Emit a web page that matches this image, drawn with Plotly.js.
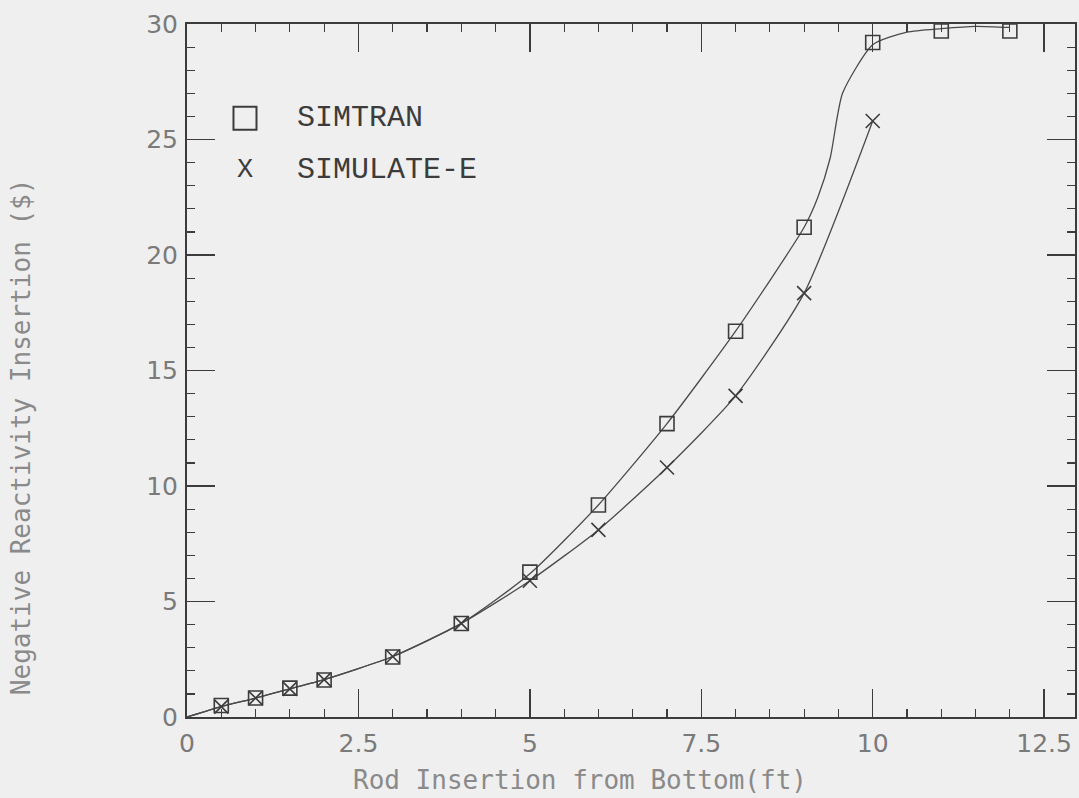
<!DOCTYPE html>
<html>
<head>
<meta charset="utf-8">
<script src="https://cdn.plot.ly/plotly-3.0.1.min.js"></script>
<style>
html,body{margin:0;padding:0;background:#efefef;}
#chart{width:1079px;height:798px;}
</style>
</head>
<body>
<div id="chart"></div>
<script>
// ---- data ----
const simtranMarkX = [0.5, 1, 1.5, 2, 3, 4, 5, 6, 7, 8, 9, 10, 11, 12];
const simtranMarkY = [0.5, 0.82, 1.25, 1.6, 2.6, 4.05, 6.27, 9.18, 12.7, 16.7, 21.2, 29.2, 29.7, 29.7];

const simtranLineX = [0, 0.5, 1, 1.5, 2, 3, 4, 5, 6, 7, 8, 9, 9.2, 9.38, 9.56, 10, 10.5, 11, 11.5, 12];
const simtranLineY = [0, 0.45, 0.82, 1.22, 1.62, 2.62, 4.05, 6.2, 9.18, 12.7, 16.7, 21.2, 22.5, 24.2, 27.0, 29.1, 29.65, 29.8, 29.9, 29.85];

const simulateMarkX = [0.5, 1, 1.5, 2, 3, 4, 5, 6, 7, 8, 9, 10];
const simulateMarkY = [0.45, 0.82, 1.22, 1.62, 2.62, 4.05, 5.9, 8.1, 10.8, 13.9, 18.35, 25.8];

const simulateLineX = [0, 0.5, 1, 1.5, 2, 3, 4, 5, 6, 7, 8, 9, 10];
const simulateLineY = [0, 0.45, 0.82, 1.22, 1.62, 2.62, 4.05, 5.9, 8.1, 10.8, 13.9, 18.35, 25.8];

const seriesNames = ["SIMTRAN", "SIMULATE-E"];
const xTickVals = [0, 2.5, 5, 7.5, 10, 12.5];
const xTickText = ["0", "2.5", "5", "7.5", "10", "12.5"];
const xTitle = "Rod Insertion from Bottom(ft)";
const yTitle = "Negative Reactivity Insertion ($)";

// ---- styles ----
const ink = "#3c3c3c";
const curveInk = "#4a4a4a";
const labelGrey = "#7a7a7a";

const traces = [
  {x: simtranLineX, y: simtranLineY, mode: "lines", line: {color: curveInk, width: 1.3, shape: "spline", smoothing: 0.6}, showlegend: false, hoverinfo: "skip"},
  {x: simulateLineX, y: simulateLineY, mode: "lines", line: {color: curveInk, width: 1.3, shape: "spline", smoothing: 0.6}, showlegend: false, hoverinfo: "skip"},
  {x: simtranMarkX, y: simtranMarkY, mode: "markers", name: seriesNames[0], cliponaxis: false,
   marker: {symbol: "square-open", size: 14, color: ink, line: {width: 1.6, color: ink}}, showlegend: false},
  {x: simulateMarkX, y: simulateMarkY, mode: "markers", name: seriesNames[1], cliponaxis: false,
   marker: {symbol: "x-thin-open", size: 14, color: ink, line: {width: 1.6, color: ink}}, showlegend: false}
];

const tickFont = {family: "DejaVu Sans", size: 25, color: labelGrey};
const titleFont = {family: "DejaVu Sans Mono", size: 26, color: "#8a8a8a"};

const layout = {
  width: 1079, height: 798,
  margin: {l: 187, r: 4, t: 24, b: 81},
  paper_bgcolor: "#efefef",
  plot_bgcolor: "#efefef",
  showlegend: false,
  xaxis: {
    range: [0, 12.95],
    tickvals: xTickVals,
    ticktext: xTickText,
    ticks: "inside", ticklen: 28, tickwidth: 1.3, tickcolor: ink,
    minor: {dtick: 0.5, ticks: "inside", ticklen: 8, tickwidth: 1.2, tickcolor: ink, showgrid: false},
    showline: true, linecolor: ink, linewidth: 2, mirror: "ticks",
    showgrid: false, zeroline: false,
    tickfont: tickFont,
    ticklabelstandoff: 3
  },
  yaxis: {
    range: [0, 30], tick0: 0, dtick: 5,
    ticks: "inside", ticklen: 28, tickwidth: 1.3, tickcolor: ink,
    minor: {dtick: 1, ticks: "inside", ticklen: 8, tickwidth: 1.2, tickcolor: ink, showgrid: false},
    showline: true, linecolor: ink, linewidth: 2, mirror: "ticks",
    showgrid: false, zeroline: false,
    tickfont: tickFont,
    ticklabelstandoff: 2
  },
  shapes: [
    {type: "rect", xref: "paper", yref: "paper",
     xsizemode: "pixel", ysizemode: "pixel",
     xanchor: 0.0653, yanchor: 0.864,
     x0: -11.5, x1: 11.5, y0: -11.5, y1: 11.5,
     line: {color: ink, width: 2}, fillcolor: "rgba(0,0,0,0)"}
  ],
  annotations: [
    {xref: "paper", yref: "paper", x: 0.1216, y: 0.864, xanchor: "left", yanchor: "middle",
     text: seriesNames[0], showarrow: false, font: {family: "Liberation Mono", size: 30, color: ink}},
    {xref: "paper", yref: "paper", x: 0.0653, y: 0.789, xanchor: "center", yanchor: "middle",
     text: "X", showarrow: false, font: {family: "Liberation Mono", size: 27, color: ink}},
    {xref: "paper", yref: "paper", x: 0.1216, y: 0.789, xanchor: "left", yanchor: "middle",
     text: seriesNames[1], showarrow: false, font: {family: "Liberation Mono", size: 30, color: ink}},
    {xref: "paper", yref: "paper", x: 0.443, y: -0.091, xanchor: "center", yanchor: "middle",
     text: xTitle, showarrow: false, font: titleFont},
    {xref: "paper", yref: "paper", x: -0.186, y: 0.405, xanchor: "center", yanchor: "middle",
     textangle: -90, text: yTitle, showarrow: false, font: titleFont}
  ]
};

Plotly.newPlot("chart", traces, layout, {displayModeBar: false, staticPlot: true});
</script>
</body>
</html>
